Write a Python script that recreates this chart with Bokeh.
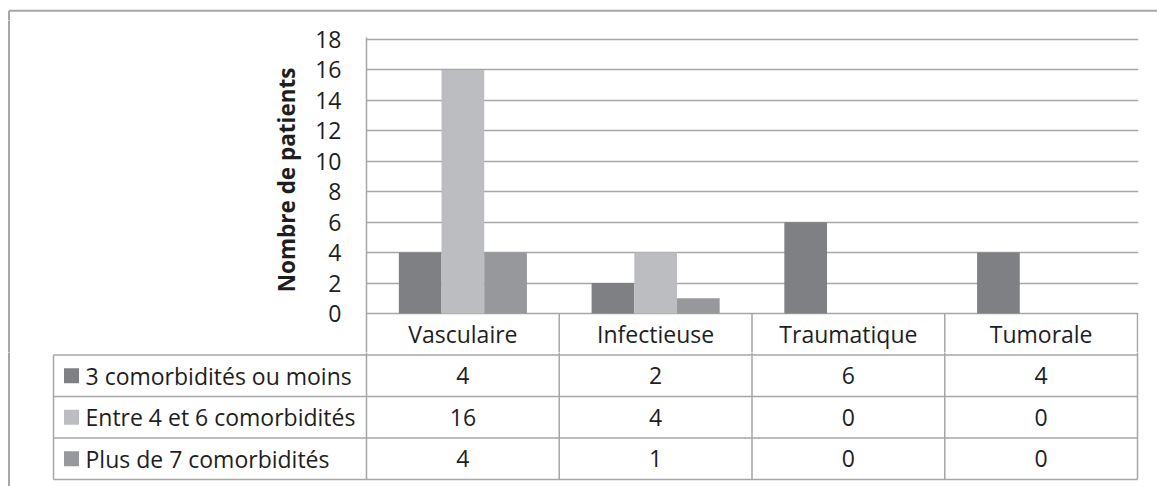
from bokeh.plotting import figure
from bokeh.layouts import column, row
from bokeh.models import Range1d, FixedTicker, ColumnDataSource, Title
from bokeh.embed import file_html
from bokeh.resources import INLINE
from bokeh.core.properties import value

# ---------------- data ----------------
categories = ["Vasculaire", "Infectieuse", "Traumatique", "Tumorale"]
series_names = ["3 comorbidités ou moins", "Entre 4 et 6 comorbidités", "Plus de 7 comorbidités"]
moins_3 = [4, 2, 6, 4]
entre_4_6 = [16, 4, 0, 0]
plus_7 = [4, 1, 0, 0]
y_ticks = [0, 2, 4, 6, 8, 10, 12, 14, 16, 18]
y_title = "Nombre de patients"

series = [moins_3, entre_4_6, plus_7]
colors = ["#7f8084", "#bcbdc0", "#97989c"]

FONT = "Open Sans"
FS = "23px"
TEXT = "#1e1e1e"
LINE = "#a6a6a6"

# ---------------- layout (canvas pixels) ----------------
W = 1157
H = 486
plot_left, plot_right = 366, 1137
plot_top, plot_bottom = 39, 313
frame_top = 37
top_h = 20
split = 352
strip_w = 200
table_left = 53
row_h = 41.5
border_x, border_y = 8.5, 10.3
title_top = 67
n = len(categories)
ymax = y_ticks[-1]
unit_x = (plot_right - plot_left) / n
unit_y = (plot_bottom - plot_top) / ymax
bar_w = 0.2215


def blank(width, height, xr, yr):
    f = figure(width=width, height=height, x_range=xr, y_range=yr,
               output_backend="svg", toolbar_location=None,
               x_axis_location=None, y_axis_location=None,
               min_border_left=0, min_border_right=0, min_border_top=0, min_border_bottom=0)
    f.outline_line_color = None
    f.background_fill_color = "white"
    f.border_fill_color = "white"
    f.xgrid.visible = False
    f.ygrid.visible = False
    f.frame_align = False
    return f


# ---------------- outer frame strips (pixel-ranged) ----------------
top_strip = blank(W, top_h, Range1d(0, W), Range1d(top_h, 0))
top_strip.segment(x0=[border_x, border_x], y0=[border_y, border_y],
                  x1=[W + 5, border_x], y1=[border_y, top_h + 5],
                  line_color=LINE, line_width=2)

left_strip = blank(strip_w, split - top_h, Range1d(0, strip_w), Range1d(split - top_h, 0))
left_strip.segment(x0=[border_x], y0=[-5], x1=[border_x], y1=[split + 5],
                   line_color=LINE, line_width=2)

# ---------------- chart figure (plot area + header row) ----------------
y_bottom = -(split - plot_bottom) / unit_y
p1 = figure(width=W - strip_w, height=split - top_h,
            x_range=Range1d(-0.5, n - 0.5 + 1 / unit_x),
            y_range=Range1d(y_bottom, ymax + (plot_top - frame_top) / unit_y),
            output_backend="svg", toolbar_location=None,
            x_axis_location=None,
            min_border_left=plot_left - strip_w, min_border_right=W - plot_right - 1,
            min_border_top=frame_top - top_h, min_border_bottom=0)
p1.frame_align = False
p1.outline_line_color = None
p1.background_fill_color = "white"
p1.border_fill_color = "white"
p1.xgrid.visible = False
p1.ygrid.ticker = FixedTicker(ticks=y_ticks)
p1.ygrid.grid_line_color = LINE
p1.ygrid.grid_line_width = 1.5
ax = p1.yaxis[0]
ax.ticker = FixedTicker(ticks=y_ticks)
ax.axis_line_color = LINE
ax.axis_line_width = 1.5
ax.major_tick_line_color = None
ax.major_tick_out = 0
ax.major_tick_in = 0
ax.minor_tick_line_color = None
ax.major_label_standoff = 25
ax.major_label_text_font = FONT
ax.major_label_text_font_size = FS
ax.major_label_text_color = TEXT

# axis title, placed over the plot area (not the header row)
p1.add_layout(Title(text=y_title, align="right", offset=title_top - frame_top,
                    text_font=FONT, text_font_size="22.5px", text_font_style="bold",
                    text_color=TEXT, standoff=22), "left")

offsets = [(k - (len(series) - 1) / 2) * bar_w for k in range(len(series))]
for k, (vals, col) in enumerate(zip(series, colors)):
    src = ColumnDataSource(dict(x=[i + offsets[k] for i in range(n)], top=vals))
    p1.vbar(x="x", top="top", bottom=0, width=bar_w, source=src,
            fill_color=col, line_color=None)

# header row of the data table (below the zero line)
hx = [i + 0.5 for i in range(n)]
p1.segment(x0=hx, x1=hx, y0=[0] * n, y1=[y_bottom - 1] * n, line_color=LINE, line_width=1.5)
p1.text(x=list(range(n)), y=[-(row_h / 2) / unit_y] * n, text=categories,
        text_align="center", text_baseline="middle",
        text_font=value(FONT), text_font_size=FS, text_color=TEXT)

# ---------------- data table figure (series rows) ----------------
x0 = -0.5 - plot_left / unit_x
x1 = n - 0.5 + (W - plot_right) / unit_x
n_rows = len(series) + 1
p2 = blank(W, H - split, Range1d(x0, x1),
           Range1d((H - plot_bottom) / row_h, (split - plot_bottom) / row_h))

xt = -0.5 - (plot_left - table_left) / unit_x
xb = -0.5 - (plot_left - border_x) / unit_x
# outer frame left line
p2.segment(x0=[xb], x1=[xb], y0=[-1], y1=[n_rows + 2], line_color=LINE, line_width=2)
# horizontal lines
hy = list(range(1, n_rows + 1))
p2.segment(x0=[xt] * len(hy), x1=[n - 0.5] * len(hy), y0=hy, y1=hy,
           line_color=LINE, line_width=1.5)
# vertical lines
vx = [xt] + [i - 0.5 for i in range(n + 1)]
vy0 = [1] + [-0.5] * (n + 1)
p2.segment(x0=vx, x1=vx, y0=vy0, y1=[n_rows] * len(vx), line_color=LINE, line_width=1.5)

# rows
sw_x = -0.5 - (plot_left - 71) / unit_x
lab_x = -0.5 - (plot_left - 85) / unit_x
for r, (name, vals, col) in enumerate(zip(series_names, series, colors)):
    yc = r + 1.5
    p2.scatter(x=[sw_x], y=[yc], marker="square", size=15, fill_color=col, line_color=None)
    p2.text(x=[lab_x], y=[yc], text=[name], text_align="left", text_baseline="middle",
            text_font=value(FONT), text_font_size=FS, text_color=TEXT)
    p2.text(x=list(range(n)), y=[yc] * n, text=[str(v) for v in vals],
            text_align="center", text_baseline="middle",
            text_font=value(FONT), text_font_size=FS, text_color=TEXT)

layout = column(top_strip, row(left_strip, p1, spacing=0), p2, spacing=0)
open("out.html", "w").write(file_html(layout, INLINE))
